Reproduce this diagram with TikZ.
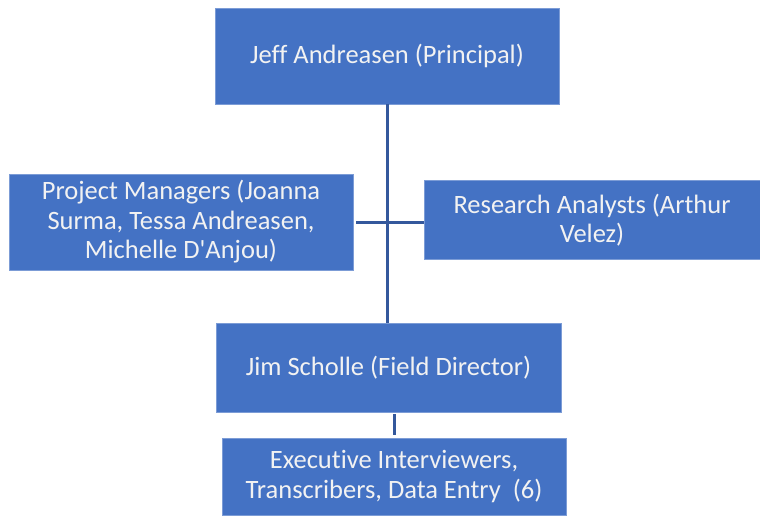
\documentclass[tikz,border=0pt]{standalone}
\usepackage{fontspec}
\setmainfont[Ligatures={NoCommon}]{Carlito}
\usepackage{tikz}
\usetikzlibrary{positioning,calc}
\definecolor{boxblue}{RGB}{68,114,196}
\definecolor{lineblue}{RGB}{52,88,156}

\begin{document}
\begin{tikzpicture}[x=1pt,y=-1pt,
  unit/.style={rectangle, fill=boxblue, draw=boxblue!70!white, line width=0.6pt, text=white!95!black, align=center,
    font=\fontsize{26.5}{29.5}\selectfont, inner sep=0pt},
  link/.style={draw=lineblue, line width=3pt}]
  \useasboundingbox (0,0) rectangle (760,515);

  \node (jeff) [unit, minimum width=344, minimum height=96] at (387,56) {Jeff Andreasen (Principal)};
  \node (pm) [unit, minimum width=344, minimum height=96] at (181,222) {Project Managers (Joanna\\Surma, Tessa Andreasen,\\Michelle D\textquotesingle Anjou)};
  \node (ra) [unit, minimum width=336, minimum height=79] at (592,220) {Research Analysts (Arthur\\Velez)};
  \node (jim) [unit, minimum width=345, minimum height=89] at (388.5,367.5) {Jim Scholle (Field Director)};
  \node (exec) [unit, minimum width=344, minimum height=77] at (394,476.5) {Executive Interviewers,\\Transcribers, Data Entry\ \ (6)};

  \path [link]
  (jeff.south) edge (jeff.south |- jim.north)
  ([xshift=3pt]pm.east) edge (pm.east -| ra.west)
  ([yshift=-2pt]jim.south -| exec.north) edge ([yshift=3pt]exec.north);
\end{tikzpicture}
\end{document}
